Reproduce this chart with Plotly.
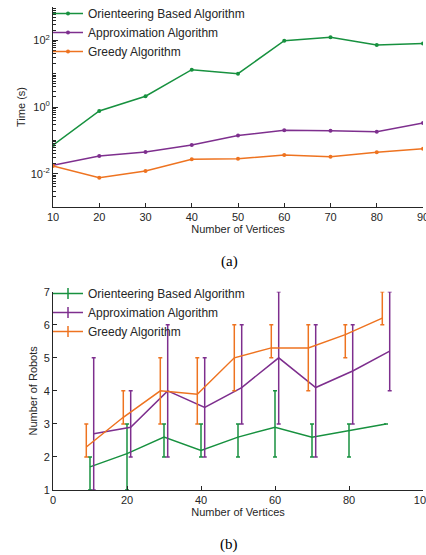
import plotly.graph_objects as go

# ---------------- data (a) ----------------
vertices = [10, 20, 30, 40, 50, 60, 70, 80, 90]
time_orienteering = [0.072, 0.76, 2.1, 13.2, 10.0, 98, 123, 72, 81]
time_approx = [0.018, 0.034, 0.045, 0.072, 0.14, 0.20, 0.195, 0.18, 0.33]
time_greedy = [0.017, 0.0076, 0.012, 0.027, 0.028, 0.036, 0.032, 0.044, 0.056]

# ---------------- data (b) ----------------
x_orienteering = [10, 20, 30, 40, 50, 60, 70, 80, 90]
x_approx = [11, 21, 31, 41, 51, 61, 71, 81, 91]
x_greedy = [9, 19, 29, 39, 49, 59, 69, 79, 89]

robots_orienteering = [1.7, 2.1, 2.6, 2.2, 2.6, 2.9, 2.6, 2.8, 3.0]
robots_orienteering_min = [1, 1, 2, 2, 2, 2, 2, 2, 3]
robots_orienteering_max = [2, 3, 3, 3, 3, 4, 3, 3, 3]

robots_approx = [2.7, 2.9, 4.0, 3.5, 4.1, 5.0, 4.1, 4.6, 5.2]
robots_approx_min = [1, 2, 2, 2, 3, 3, 2, 3, 4]
robots_approx_max = [5, 4, 6, 5, 6, 7, 6, 6, 7]

robots_greedy = [2.3, 3.2, 4.0, 3.9, 5.0, 5.3, 5.3, 5.7, 6.2]
robots_greedy_min = [2, 3, 3, 3, 4, 5, 4, 5, 6]
robots_greedy_max = [3, 4, 5, 5, 6, 6, 6, 6, 7]

names = ["Orienteering Based Algorithm", "Approximation Algorithm", "Greedy Algorithm"]

y_ticks_a = [0.01, 1, 100]
y_ticktext_a = ["10<sup>-2</sup>", "10<sup>0</sup>", "10<sup>2</sup>"]
x_ticks_b = [0, 20, 40, 60, 80, 100]
y_ticks_b = [1, 2, 3, 4, 5, 6, 7]

# ---------------- style ----------------
GREEN = "#17913f"
PURPLE = "#7e2f8e"
ORANGE = "#ee7320"
AX = "#262626"
FONT = "Liberation Sans, Arial, sans-serif"
SERIF = "Liberation Serif, Times New Roman, serif"
W, H = 426, 555

fig = go.Figure()

# (a) traces
for ys, c, n in [(time_orienteering, GREEN, names[0]),
                 (time_approx, PURPLE, names[1]),
                 (time_greedy, ORANGE, names[2])]:
    fig.add_trace(go.Scatter(x=vertices, y=ys, name=n, mode="lines+markers",
                             line=dict(color=c, width=1.5),
                             marker=dict(color=c, size=4),
                             xaxis="x", yaxis="y", legend="legend"))

# (b) traces
for xs, ys, lo, hi, c, n in [
        (x_orienteering, robots_orienteering, robots_orienteering_min, robots_orienteering_max, GREEN, names[0]),
        (x_approx, robots_approx, robots_approx_min, robots_approx_max, PURPLE, names[1]),
        (x_greedy, robots_greedy, robots_greedy_min, robots_greedy_max, ORANGE, names[2])]:
    up = [h - m for h, m in zip(hi, ys)]
    dn = [m - l for m, l in zip(ys, lo)]
    fig.add_trace(go.Scatter(x=xs, y=ys, name=n, mode="lines",
                             line=dict(color=c, width=1.5),
                             error_y=dict(type="data", symmetric=False, array=up, arrayminus=dn,
                                          color=c, thickness=1.5, width=2),
                             xaxis="x2", yaxis="y2", showlegend=False))
    # legend entry with errorbar-like icon
    fig.add_trace(go.Scatter(x=[None], y=[None], name=n, mode="lines+markers",
                             line=dict(color=c, width=1.5),
                             marker=dict(symbol="line-ns-open", size=8, line=dict(color=c, width=1.5)),
                             xaxis="x2", yaxis="y2", legend="legend2"))

x0, x1 = 53 / W, 423 / W

minor_log = []
for d in range(-3, 3):
    for k in range(1, 10):
        minor_log.append(k * 10 ** d)
minor_log.append(1000)

common_axis = dict(showline=True, linecolor=AX, linewidth=1, showgrid=False, zeroline=False,
                   ticks="inside", tickcolor=AX, ticklabeloverflow="allow",
                   tickfont=dict(size=11, color=AX, family=FONT))
title_font = dict(size=11, color=AX, family=FONT)

fig.update_layout(
    width=W, height=H,
    margin=dict(l=0, r=0, t=0, b=0, autoexpand=False),
    paper_bgcolor="white", plot_bgcolor="white",
    font=dict(family=FONT, color=AX, size=11),
    xaxis=dict(domain=[x0, x1], anchor="y", range=[10, 90], tickvals=vertices, ticklen=4,
               title=dict(text="Number of Vertices", font=title_font, standoff=2),
               **common_axis),
    yaxis=dict(domain=[1 - 207 / H, 1 - 7 / H], anchor="x", type="log", range=[-3, 3],
               tickvals=y_ticks_a, ticktext=y_ticktext_a, ticklen=5,
               minor=dict(tickvals=minor_log, ticks="inside", ticklen=2.5, tickcolor=AX),
               title=dict(text="Time (s)", font=title_font, standoff=2),
               **common_axis),
    xaxis2=dict(domain=[x0, x1], anchor="y2", range=[0, 100], tickvals=x_ticks_b, ticklen=4,
                title=dict(text="Number of Vertices", font=title_font, standoff=3),
                **common_axis),
    yaxis2=dict(domain=[1 - 490 / H, 1 - 291.7 / H], anchor="x2", range=[1, 7],
                tickvals=y_ticks_b, ticklen=4,
                title=dict(text="Number of Robots", font=title_font, standoff=3),
                **common_axis),
    legend=dict(x=48 / W, y=1 + 1 / H, xanchor="left", yanchor="top",
                bgcolor="rgba(0,0,0,0)", font=dict(size=12, color=AX, family=FONT),
                itemwidth=30, tracegroupgap=0),
    legend2=dict(x=48 / W, y=1 - 279 / H, xanchor="left", yanchor="top",
                 bgcolor="rgba(0,0,0,0)", font=dict(size=12, color=AX, family=FONT),
                 itemwidth=30, tracegroupgap=0),
    annotations=[
        dict(text="(a)", x=229 / W, y=1 - 261 / H, xref="paper", yref="paper", showarrow=False,
             xanchor="center", yanchor="middle", font=dict(family=SERIF, size=15, color="black")),
        dict(text="(b)", x=229 / W, y=1 - 544 / H, xref="paper", yref="paper", showarrow=False,
             xanchor="center", yanchor="middle", font=dict(family=SERIF, size=15, color="black")),
    ],
)

fig.write_html("out.html", config={"displayModeBar": False},
               post_script="document.body.style.margin='0';document.body.style.overflow='hidden';")
